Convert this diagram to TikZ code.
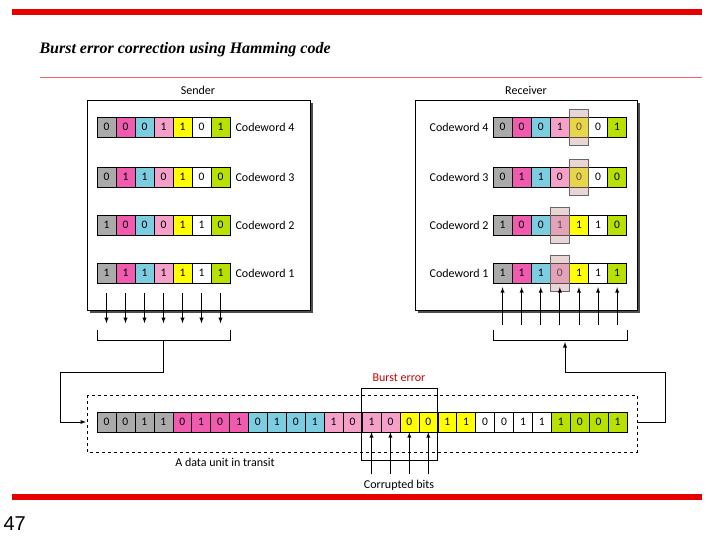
\documentclass[tikz,border=0pt]{standalone}
\usepackage{fontspec}
\setmainfont{Carlito}
\newfontfamily\titlefont{Liberation Serif}
\newfontfamily\numfont{Liberation Sans}
\begin{document}
\begin{tikzpicture}[x=1pt,y=-1pt,
  cell/.style={draw,minimum width=19pt,minimum height=20pt,inner sep=0pt,font=\fontsize{11.5}{11}\selectfont},
  lbl/.style={font=\fontsize{12}{12}\selectfont},
  box/.style={draw,fill=white,line width=0.8pt},
  arr/.style={-latex,line width=0.9pt},
  hl/.style={draw=black!60,fill=pink!60!gray,fill opacity=0.45,minimum width=19pt,minimum height=36pt,inner sep=0pt}]
\useasboundingbox (0,0) rectangle (720,540);
\definecolor{c1}{RGB}{170,170,170}
\definecolor{c2}{RGB}{240,90,175}
\definecolor{c3}{RGB}{125,205,225}
\definecolor{c4}{RGB}{245,160,200}
\definecolor{c5}{RGB}{255,255,0}
\definecolor{c6}{RGB}{255,255,255}
\definecolor{c7}{RGB}{185,225,0}
\definecolor{redbar}{RGB}{230,0,0}
\fill[redbar] (12,9) rectangle (702,15);
\fill[redbar] (12,494) rectangle (702,500);
\draw[redbar!60,line width=0.6pt] (40,77) -- (702,77);
\node[anchor=west,font=\titlefont\bfseries\itshape\fontsize{16}{16}\selectfont] (title) at (36,50) {Burst error correction using Hamming code};
\node[anchor=west,font=\numfont\fontsize{20}{20}\selectfont] (pg) at (0,524) {47};
% boxes
\fill[black!70] (90,103) rectangle (313,313);
\draw[box] (87,100) rectangle (310,310);
\node[lbl] (st) at (198,90) {Sender};
\fill[black!70] (418,103) rectangle (640,313);
\draw[box] (415,100) rectangle (637,310);
\node[lbl] (rt) at (526,90) {Receiver};
\foreach \r/\y/\s in {4/127/{0,0,0,1,1,0,1},3/177/{0,1,1,0,1,0,0},2/225/{1,0,0,0,1,1,0},1/273/{1,1,1,1,1,1,1}}{
  \foreach \b [count=\i] in \s{
    \node[cell,fill=c\i] (s\r\i) at ({97+19*(\i-0.5)},\y) {\b};
  }
  \node[lbl,anchor=west] (sl\r) at (232,\y) {Codeword \r};
}
\foreach \r/\y/\s in {4/127/{0,0,0,1,0,0,1},3/177/{0,1,1,0,0,0,0},2/225/{1,0,0,1,1,1,0},1/273/{1,1,1,0,1,1,1}}{
  \foreach \b [count=\i] in \s{
    \node[cell,fill=c\i] (r\r\i) at ({493+19.1*(\i-0.5)},\y) {\b};
  }
  \node[lbl,anchor=east] (rl\r) at (492,\y) {Codeword \r};
}
\node[hl] (h4) at (r45) {};
\node[hl] (h3) at (r35) {};
\node[hl] (h2) at (r24) {};
\node[hl] (h1) at (r14) {};
\foreach \i in {1,...,7}{
  \coordinate (sa\i) at ([yshift=-10pt]s1\i.south);
  \draw[arr] (sa\i) -- ++(0,30);
  \coordinate (ra\i) at ([yshift=-42pt]r1\i.south);
  \draw[arr] (ra\i) -- ([yshift=-4pt]r1\i.south);
}
% sender bracket
\coordinate (sb1) at (97,330); \coordinate (sb2) at (230,330);
\draw (sb1) -- ++(0,10) -- (230,340) -- (sb2);
\coordinate (sbc) at (163,340);
\coordinate (lc1) at (163,372); \coordinate (lc2) at (60,372); \coordinate (lc3) at (60,422);
\draw[line width=0.8pt] (sbc) -- (lc1) -- (lc2) -- (lc3);
% receiver bracket
\coordinate (rb1) at (493,330); \coordinate (rb2) at (627,330);
\draw (rb1) -- ++(0,10) -- (627,340) -- (rb2);
\coordinate (rc1) at (565,372); \coordinate (rc2) at (665,372); \coordinate (rc3) at (665,422);
\draw[arr] (rc1) -- (565,342);
\draw[line width=0.8pt] (rc1) -- (rc2) -- (rc3) -- (637,422);
% transit
\draw[dashed,line width=0.9pt] (87,395) rectangle (637,452);
\draw[arr] (lc3) -- (86,422);
\foreach \b [count=\n] in {0,0,1,1,0,1,0,1,0,1,0,1,1,0,1,0,0,0,1,1,0,0,1,1,1,0,0,1}{
  \pgfmathtruncatemacro{\g}{floor((\n-1)/4)+1}
  \node[cell,minimum width=18.93pt,fill=c\g] (t\n) at ({97+18.93*(\n-0.5)},422) {\b};
}
\draw (361,388) rectangle (437,460);
\node[lbl,text=red!80!black] (be) at (399,378) {Burst error};
\foreach \n in {15,...,18}{
  \coordinate (cb\n) at ([yshift=-42pt]t\n.south);
  \draw[arr] (cb\n) -- (t\n.south);
}
\node[lbl] (cbt) at (399,485) {Corrupted bits};
\node[lbl] (dut) at (225,462) {A data unit in transit};
\end{tikzpicture}
\end{document}
